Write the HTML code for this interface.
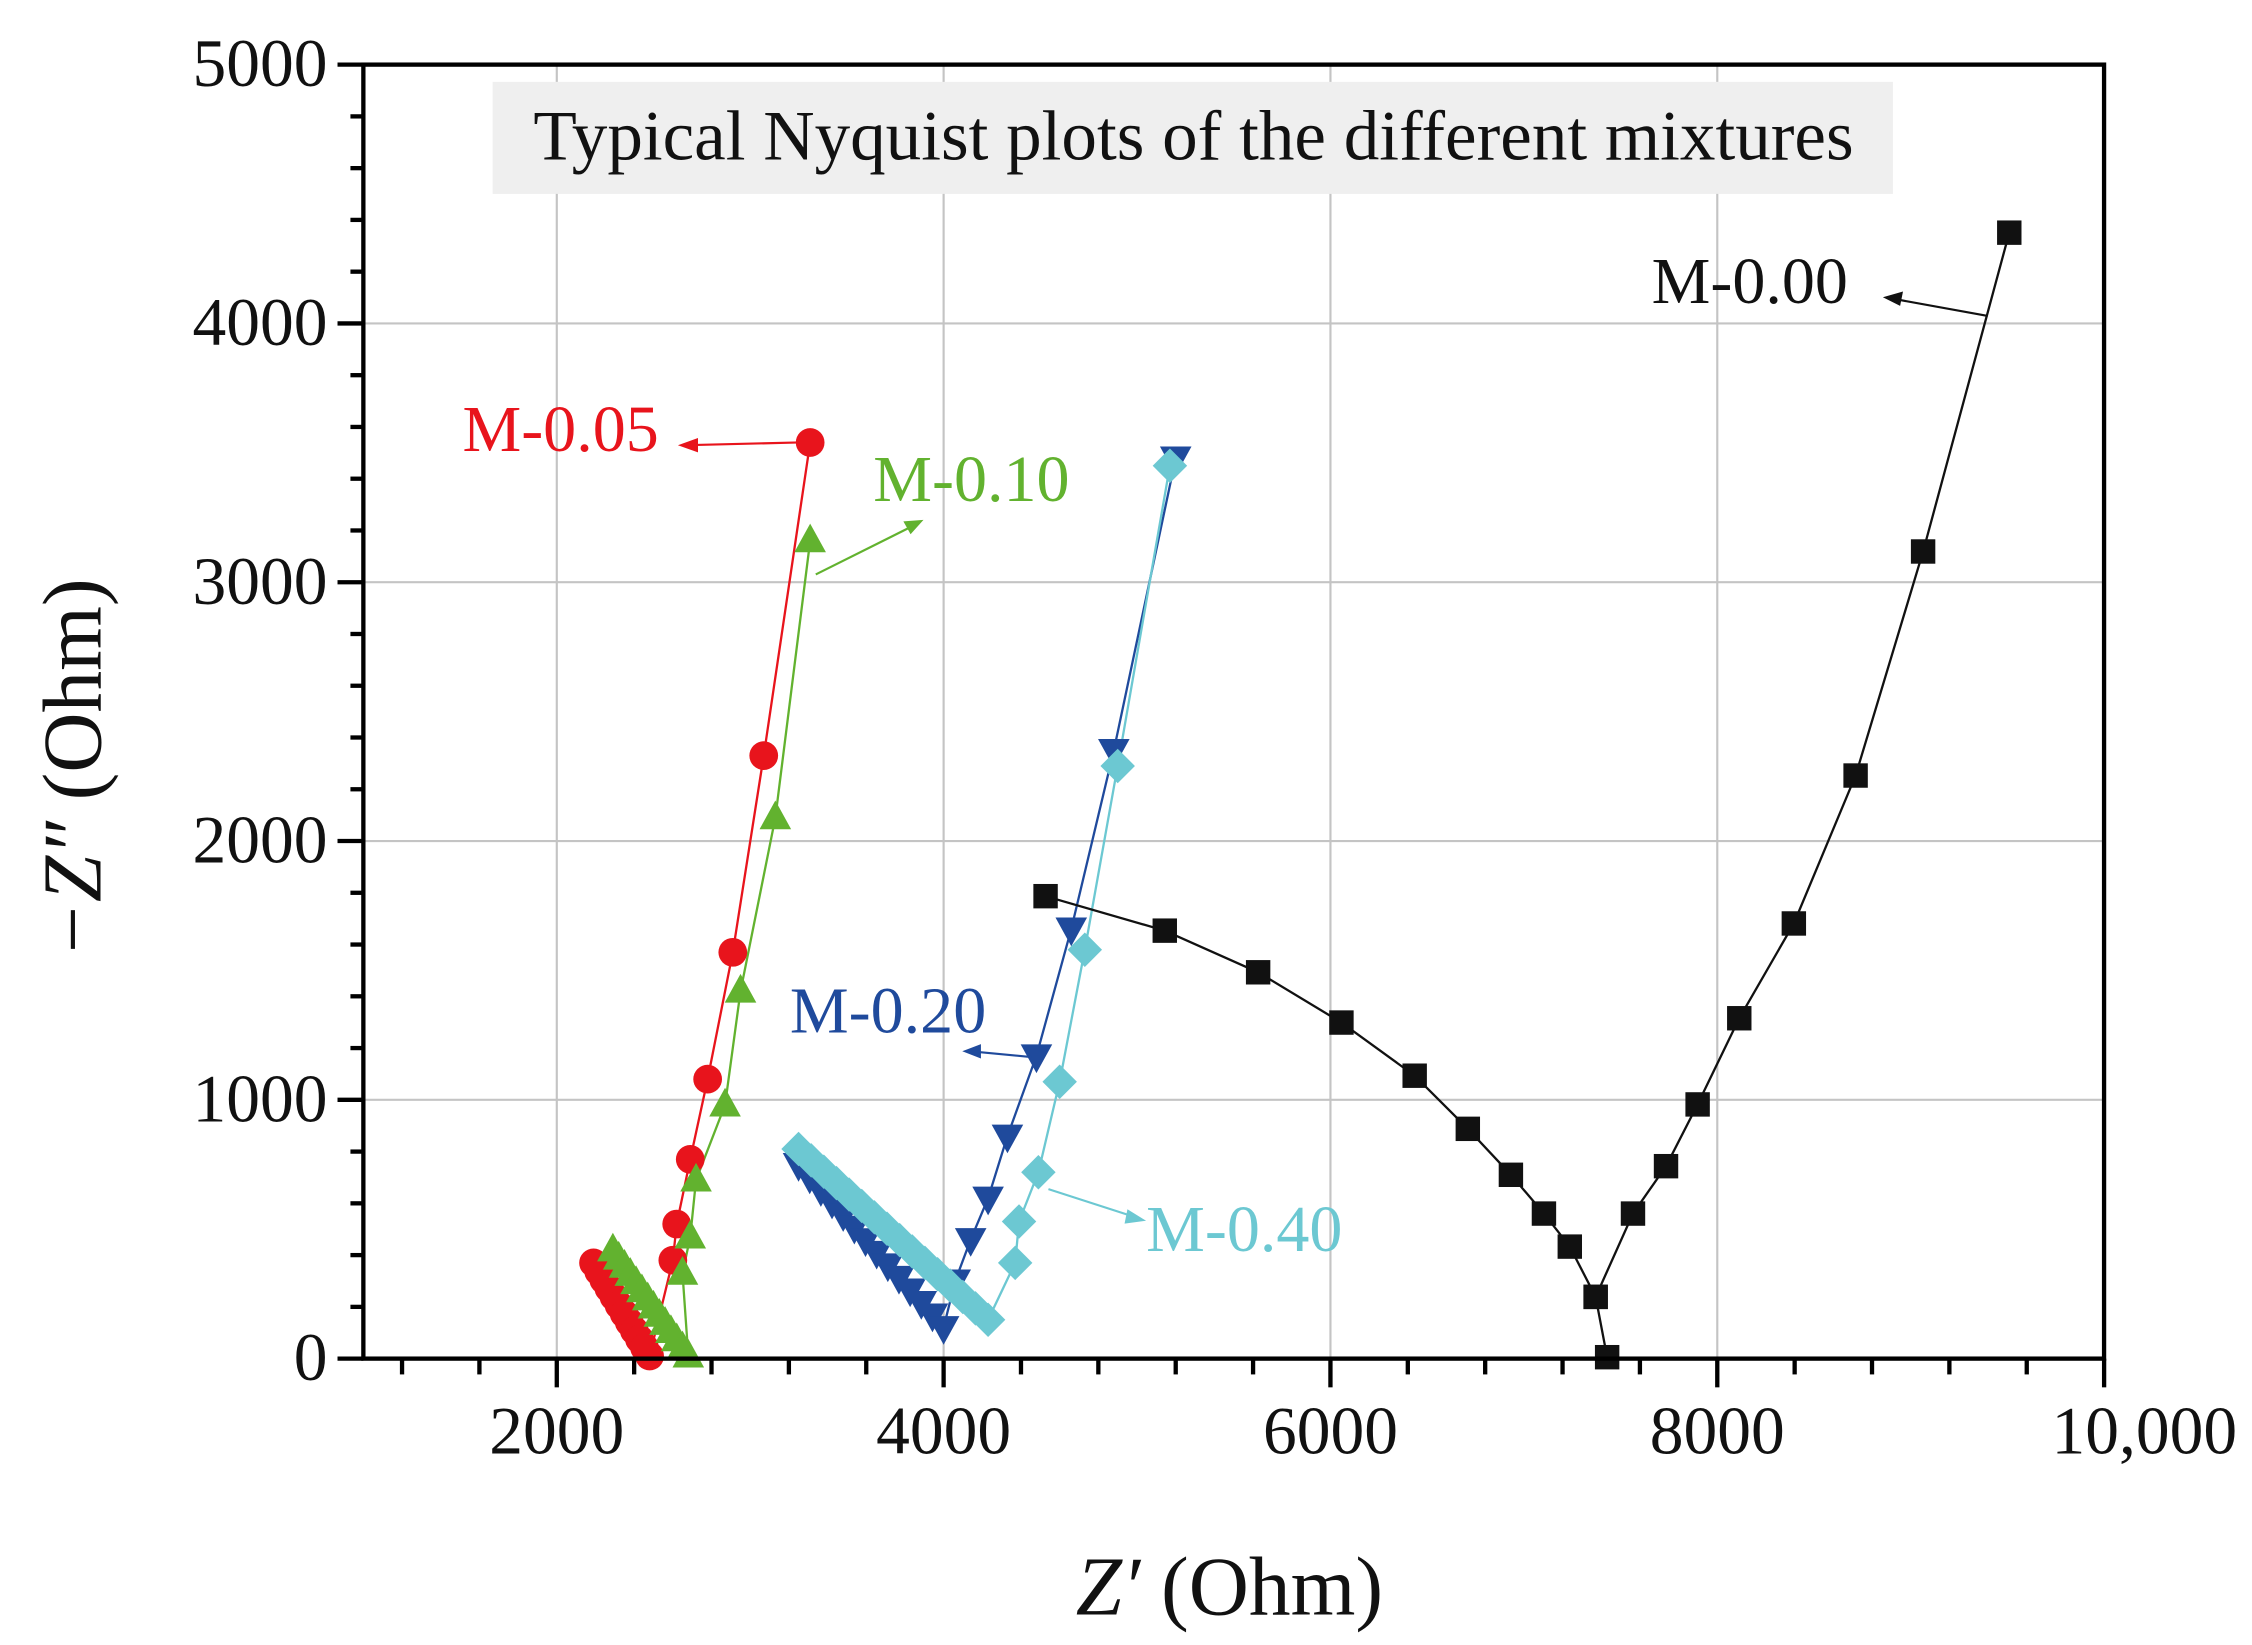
<!DOCTYPE html>
<html><head><meta charset="utf-8"><style>html,body{margin:0;padding:0;background:#fff}svg{display:block}</style></head>
<body>
<svg id="s" width="2252" height="1645" viewBox="0 0 1568 1145.4" preserveAspectRatio="none" xmlns="http://www.w3.org/2000/svg" font-family="Liberation Serif, serif">
<g id="grid" stroke="#c4c4c4" stroke-width="1.5"></g>
<rect x="343" y="57" width="975" height="78" fill="#efefef"/>
<text x="831" y="111" font-size="49.5" text-anchor="middle" fill="#111">Typical Nyquist plots of the different mixtures</text>
<g id="data"></g>
<rect x="253" y="45" width="1212" height="901" fill="none" stroke="#000" stroke-width="3"/>
<g id="ticks" stroke="#000" stroke-width="3"></g>
<g font-size="47" fill="#111" id="lab"></g>
<text x="856" y="1124" font-size="58" text-anchor="middle" fill="#111"><tspan font-style="italic">Z′</tspan> (Ohm)</text>
<text transform="translate(70,535) rotate(-90)" font-size="58" text-anchor="middle" fill="#111"><tspan font-style="italic">−Z″</tspan> (Ohm)</text>
<g font-size="46">
<text x="322" y="314" fill="#e8141c">M-0.05</text>
<text x="608" y="349" fill="#62b22f">M-0.10</text>
<text x="1150" y="211" fill="#111">M-0.00</text>
<text x="550" y="719" fill="#1f4a9c">M-0.20</text>
<text x="798" y="871" fill="#6cc8d2">M-0.40</text>
</g>
<g stroke-width="1.5" fill="none">
<line x1="560" y1="308" x2="478" y2="310" stroke="#e8141c"/><path d="M472,310 l14,-5 v10z" fill="#e8141c" stroke="none"/>
<line x1="568" y1="400" x2="636" y2="366" stroke="#62b22f"/><path d="M643,362 l-14,1 5,9z" fill="#62b22f" stroke="none"/>
<line x1="1384" y1="220" x2="1318" y2="208" stroke="#111"/><path d="M1311,207 l14,-4 -2,10z" fill="#111" stroke="none"/>
<line x1="718" y1="736" x2="676" y2="732" stroke="#1f4a9c"/><path d="M670,732 l13,-5 v10z" fill="#1f4a9c" stroke="none"/>
<line x1="730" y1="828" x2="792" y2="848" stroke="#6cc8d2"/><path d="M798,850 l-13,-8 -2,10z" fill="#6cc8d2" stroke="none"/>
</g>
</svg>
<script>
const NS="http://www.w3.org/2000/svg";
const X=x=>253+(x-1000)*0.13467, Y=y=>946-y*0.1802;
function el(p,t,a){const e=document.createElementNS(NS,t);for(const k in a)e.setAttribute(k,a[k]);p.appendChild(e);return e;}
const g=document.getElementById('grid'),tk=document.getElementById('ticks'),lb=document.getElementById('lab');
for(let v=2000;v<10000;v+=2000)el(g,'line',{x1:X(v),x2:X(v),y1:45,y2:946});
for(let v=1000;v<5000;v+=1000)el(g,'line',{x1:253,x2:1465,y1:Y(v),y2:Y(v)});
for(let v=1200;v<=10000;v+=400){const maj=(v%2000==0);el(tk,'line',{x1:X(v),x2:X(v),y1:946,y2:maj?966:957});}
for(let v=0;v<=5000;v+=200){const maj=(v%1000==0);el(tk,'line',{x1:maj?235:244,x2:253,y1:Y(v),y2:Y(v)});}
[2000,4000,6000,8000,'10,000'].forEach((t,i)=>{el(lb,'text',{x:X(2000+2000*i)+(i==4?28:0),y:1012,'text-anchor':'middle'}).textContent=t;});
for(let v=0;v<=5000;v+=1000){el(lb,'text',{x:228,y:Y(v)+15,'text-anchor':'end'}).textContent=v;}
function lin(a,b,n){const r=[];for(let i=0;i<n;i++)r.push([a[0]+(b[0]-a[0])*i/(n-1),a[1]+(b[1]-a[1])*i/(n-1)]);return r;}
const series=[
{c:'#e8141c',m:'c',pts:lin([2190,370],[2480,10],12).concat([[2600,380],[2620,520],[2690,770],[2780,1080],[2910,1570],[3070,2330],[3310,3540]])},
{c:'#62b22f',m:'t',pts:lin([2290,420],[2680,10],14).concat([[2650,330],[2690,470],[2720,690],[2870,980],[2950,1420],[3130,2090],[3310,3160]])},
{c:'#1f4a9c',m:'v',pts:lin([3250,750],[4000,120],14).concat([[4060,300],[4140,460],[4230,620],[4330,860],[4480,1170],[4660,1660],[4880,2350],[5200,3480]])},
{c:'#6cc8d2',m:'d',pts:lin([3250,810],[4230,150],16).concat([[4370,370],[4390,530],[4490,720],[4600,1070],[4730,1580],[4900,2290],[5170,3450]])},
];
const bpx=[[728,624],[811,648],[876,677],[934,712],[985,749],[1022,786],[1052,818],[1075,845],[1093,868],[1111,903],[1119,945],[1111,903],[1137,845],[1160,812],[1182,769],[1211,709],[1249,643],[1292,540],[1339,384],[1399,162]];
const d=document.getElementById('data');
series.forEach(s=>{
 el(d,'polyline',{points:s.pts.map(p=>X(p[0])+','+Y(p[1])).join(' '),fill:'none',stroke:s.c,'stroke-width':1.6});
});
el(d,'polyline',{points:bpx.map(p=>p.join(',')).join(' '),fill:'none',stroke:'#111','stroke-width':1.6});
series.forEach(s=>{
 s.pts.forEach(p=>{const x=X(p[0]),y=Y(p[1]);
  if(s.m=='c')el(d,'circle',{cx:x,cy:y,r:10,fill:s.c});
  else if(s.m=='t')el(d,'path',{d:`M${x},${y-12} L${x+11},${y+8} L${x-11},${y+8}Z`,fill:s.c});
  else if(s.m=='v')el(d,'path',{d:`M${x},${y+12} L${x+11},${y-8} L${x-11},${y-8}Z`,fill:s.c});
  else el(d,'path',{d:`M${x},${y-12} L${x+12},${y} L${x},${y+12} L${x-12},${y}Z`,fill:s.c});
 });
});
bpx.forEach(p=>el(d,'rect',{x:p[0]-8.5,y:p[1]-8.5,width:17,height:17,fill:'#111'}));
</script>
</body></html>
